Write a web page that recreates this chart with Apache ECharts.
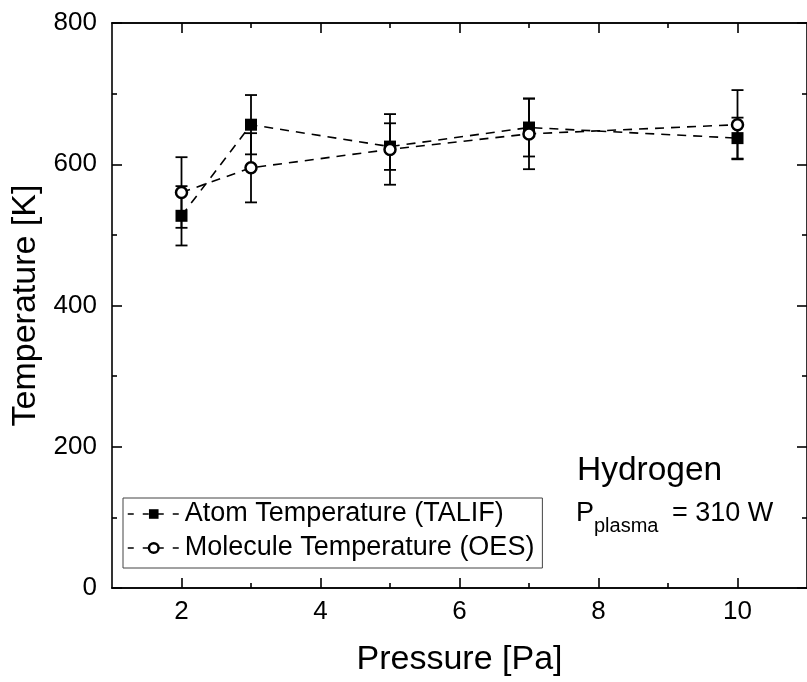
<!DOCTYPE html>
<html>
<head>
<meta charset="utf-8">
<script src="https://cdn.jsdelivr.net/npm/echarts@6/dist/echarts.min.js"></script>
<style>
html,body{margin:0;padding:0;background:#fff;}
#chart{width:807px;height:682px;}
</style>
</head>
<body>
<div id="chart"></div>
<script>
const pressure = [2, 3, 5, 7, 10];
const atomTemp = [527, 656, 625, 652, 637];
const atomErr = [42, 42, 33, 41, 29];
const molTemp = [560, 595, 621, 643, 656];
const molErr = [50, 49, 50, 50, 49];
const xMajorTicks = [2, 4, 6, 8, 10];
const xMinorTicks = [3, 5, 7, 9];
const seriesNames = ['Atom Temperature (TALIF)', 'Molecule Temperature (OES)'];

const FONT = 'Liberation Sans, Arial, sans-serif';

const lineData = (t) => pressure.map((p, i) => [p, t[i]]);
const errData = (t, e) => pressure.map((p, i) => [p, t[i] - e[i], t[i] + e[i]]);

function renderErr(params, api) {
  const x = api.value(0), lo = api.value(1), hi = api.value(2);
  const a = api.coord([x, lo]), b = api.coord([x, hi]);
  const w = 6;
  const st = { stroke: '#000', lineWidth: 1.8 };
  return {
    type: 'group',
    children: [
      { type: 'line', shape: { x1: a[0], y1: a[1], x2: b[0], y2: b[1] }, style: st },
      { type: 'line', shape: { x1: a[0] - w, y1: a[1], x2: a[0] + w, y2: a[1] }, style: st },
      { type: 'line', shape: { x1: b[0] - w, y1: b[1], x2: b[0] + w, y2: b[1] }, style: st }
    ]
  };
}

const axisLineStyle = { color: '#000', width: 1.6 };

function xAx(pos, ticks, len, labels, name) {
  return {
    type: 'value', min: 1, max: 11, position: pos,
    axisLine: { show: true, onZero: false, lineStyle: axisLineStyle },
    axisTick: { show: true, inside: true, length: len, customValues: ticks, lineStyle: { color: '#000', width: 1.6 } },
    axisLabel: labels ? { show: true, customValues: ticks, fontSize: 26, fontFamily: FONT, color: '#000', margin: 11 } : { show: false },
    splitLine: { show: false },
    name: name || '', nameLocation: 'middle', nameGap: 55,
    nameTextStyle: { fontSize: 34, fontFamily: FONT, color: '#000' }
  };
}
function yAx(pos, labels, name) {
  return {
    type: 'value', min: 0, max: 800, interval: 200, position: pos,
    axisLine: { show: true, onZero: false, lineStyle: axisLineStyle },
    axisTick: { show: true, inside: true, length: 10, lineStyle: { color: '#000', width: 1.6 } },
    minorTick: { show: true, splitNumber: 2, length: 5, lineStyle: { color: '#000', width: 1.6 } },
    axisLabel: labels ? { show: true, fontSize: 26, fontFamily: FONT, color: '#000', margin: 15 } : { show: false },
    splitLine: { show: false },
    name: name || '', nameLocation: 'middle', nameGap: 66,
    nameTextStyle: { fontSize: 34, fontFamily: FONT, color: '#000' }
  };
}

const chart = echarts.init(document.getElementById('chart'), null, { renderer: 'canvas' });
chart.setOption({
  animation: false,
  backgroundColor: '#fff',
  grid: { left: 112, top: 23, right: -7.5, bottom: 93.5, containLabel: false },
  xAxis: [
    xAx('bottom', xMajorTicks, 10, true, 'Pressure [Pa]'),
    xAx('bottom', xMinorTicks, 5, false),
    xAx('top', xMajorTicks, 10, false),
    xAx('top', xMinorTicks, 5, false)
  ],
  yAxis: [
    yAx('left', true, 'Temperature [K]'),
    yAx('right', false)
  ],
  legend: {
    orient: 'vertical', left: 123, top: 498,
    data: [
      { name: seriesNames[0] },
      { name: seriesNames[1], itemStyle: { color: '#fff', borderColor: '#000', borderWidth: 2.5 } }
    ],
    borderColor: '#444', borderWidth: 1, borderRadius: 0,
    padding: [0, 8, 4, 4], itemGap: 2, itemWidth: 52, itemHeight: 12,
    lineStyle: { type: [6, 9], width: 1.5, dashOffset: 0 },
    textStyle: { fontSize: 27, fontFamily: FONT, color: '#000', lineHeight: 32 },
    backgroundColor: '#fff'
  },
  series: [
    { type: 'custom', name: 'errAtom', renderItem: renderErr, data: errData(atomTemp, atomErr), z: 1, encode: { x: 0, y: [1, 2] } },
    { type: 'custom', name: 'errMol', renderItem: renderErr, data: errData(molTemp, molErr), z: 1, encode: { x: 0, y: [1, 2] } },
    {
      type: 'line', name: seriesNames[0], data: lineData(atomTemp), z: 3,
      symbol: 'rect', symbolSize: 12, showSymbol: true,
      itemStyle: { color: '#000' },
      lineStyle: { color: '#000', width: 1.6, type: [9, 7] }
    },
    {
      type: 'line', name: seriesNames[1], data: lineData(molTemp), z: 4,
      symbol: 'circle', symbolSize: 11, showSymbol: true,
      itemStyle: { color: '#fff', borderColor: '#000', borderWidth: 2.5 },
      lineStyle: { color: '#000', width: 1.6, type: [9, 7] }
    }
  ],
  graphic: [
    { type: 'text', x: 577, y: 471, style: { text: 'Hydrogen', font: '33.5px ' + FONT, fill: '#000', verticalAlign: 'middle' } },
    { type: 'text', x: 576, y: 514, style: { text: 'P', font: '27px ' + FONT, fill: '#000', verticalAlign: 'middle' } },
    { type: 'text', x: 594, y: 526, style: { text: 'plasma', font: '20px ' + FONT, fill: '#000', verticalAlign: 'middle' } },
    { type: 'text', x: 672, y: 514, style: { text: '= 310 W', font: '27px ' + FONT, fill: '#000', verticalAlign: 'middle' } }
  ]
});
</script>
</body>
</html>
